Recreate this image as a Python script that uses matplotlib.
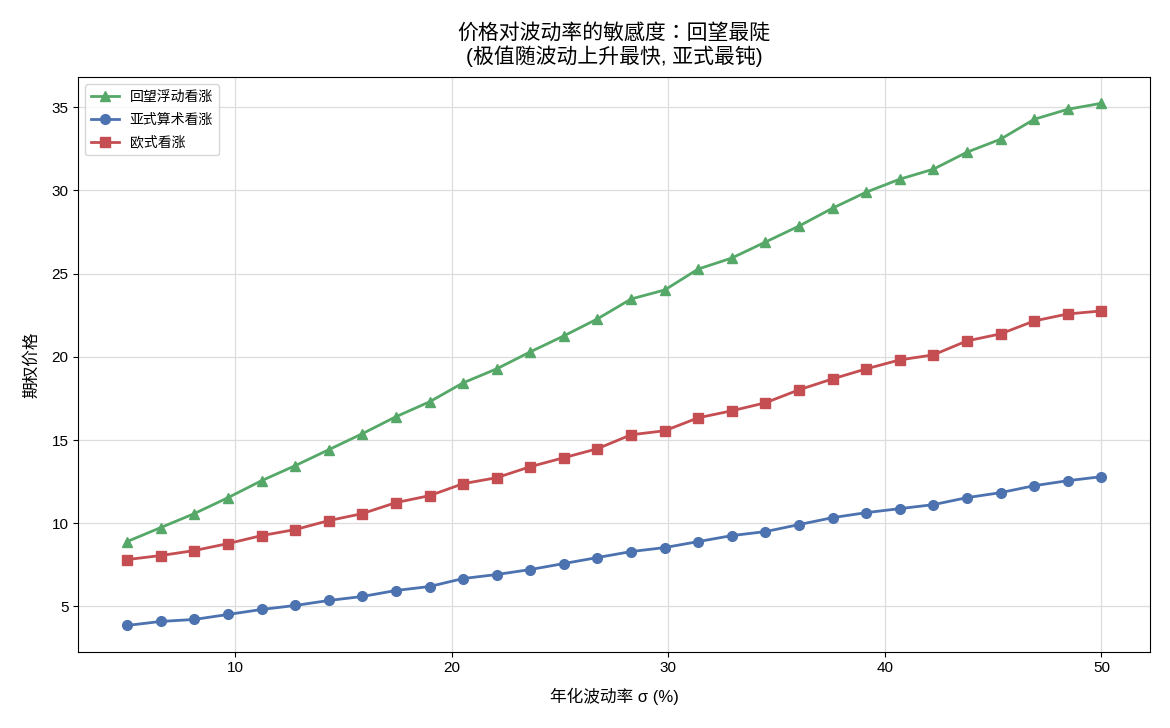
import numpy as np
import matplotlib
matplotlib.use('Agg')
import matplotlib.pyplot as plt

plt.rcParams['font.family'] = ['Liberation Sans', 'Noto Sans CJK SC', 'DejaVu Sans']
plt.rcParams['axes.unicode_minus'] = False

# annualised volatility (%)
sigma = [5.0, 6.55, 8.1, 9.66, 11.21, 12.76, 14.31, 15.86, 17.41, 18.97,
         20.52, 22.07, 23.62, 25.17, 26.72, 28.28, 29.83, 31.38, 32.93, 34.48,
         36.03, 37.59, 39.14, 40.69, 42.24, 43.79, 45.34, 46.9, 48.45, 50.0]

# option prices
lookback = [8.9, 9.74, 10.58, 11.54, 12.56, 13.46, 14.42, 15.38, 16.4, 17.3,
            18.44, 19.28, 20.3, 21.26, 22.28, 23.48, 24.02, 25.28, 25.94, 26.9,
            27.86, 28.94, 29.9, 30.68, 31.28, 32.3, 33.08, 34.28, 34.88, 35.24]
asian = [3.86, 4.1, 4.22, 4.52, 4.82, 5.06, 5.36, 5.6, 5.96, 6.2,
         6.68, 6.92, 7.22, 7.58, 7.94, 8.3, 8.54, 8.9, 9.26, 9.5,
         9.92, 10.34, 10.64, 10.88, 11.12, 11.54, 11.84, 12.26, 12.56, 12.8]
european = [7.82, 8.06, 8.36, 8.78, 9.26, 9.62, 10.16, 10.58, 11.24, 11.66,
            12.38, 12.74, 13.4, 13.94, 14.48, 15.32, 15.56, 16.34, 16.76, 17.24,
            18.02, 18.68, 19.28, 19.82, 20.12, 20.96, 21.38, 22.16, 22.58, 22.76]

fig, ax = plt.subplots(figsize=(11.7, 7.28), dpi=100)

ax.plot(sigma, lookback, marker='^', color='#55A868', lw=2, ms=7, label='回望浮动看涨')
ax.plot(sigma, asian, marker='o', color='#4C72B0', lw=2, ms=7, label='亚式算术看涨')
ax.plot(sigma, european, marker='s', color='#C44E52', lw=2, ms=7, label='欧式看涨')

ax.set_title('价格对波动率的敏感度：回望最陡\n(极值随波动上升最快, 亚式最钝)', fontsize=15, pad=10,
             family=['Liberation Sans', 'Noto Sans CJK TC', 'DejaVu Sans'])
ax.set_xlabel('年化波动率 σ (%)', fontsize=12, labelpad=9)
ax.set_ylabel('期权价格', fontsize=12, labelpad=9)
ax.tick_params(labelsize=11)
ax.grid(True, color='#dddddd', lw=0.9)
ax.set_axisbelow(True)
ax.legend(loc='upper left', fontsize=10, labelspacing=0.65)

plt.subplots_adjust(left=0.067, right=0.983, top=0.894, bottom=0.105)
plt.savefig('out.png')
